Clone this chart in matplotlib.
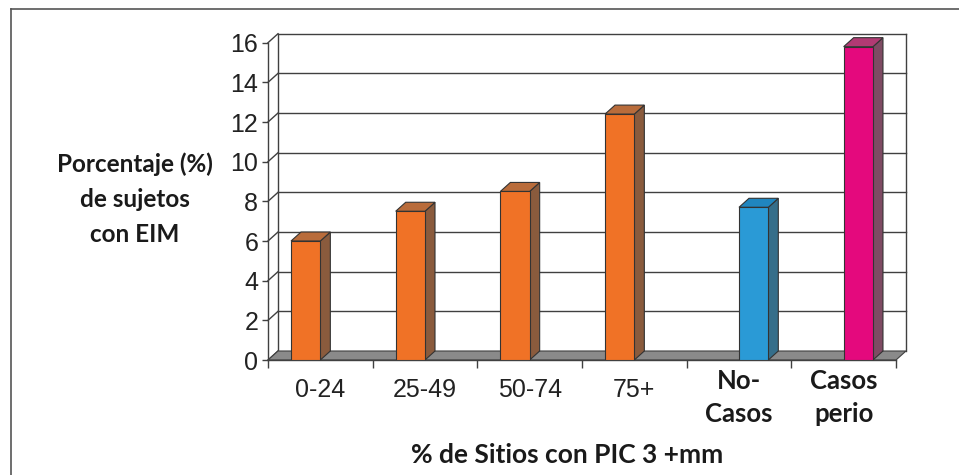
import matplotlib

matplotlib.use("Agg")
import matplotlib.pyplot as plt
from matplotlib.lines import Line2D
from matplotlib.patches import Polygon

# Chart data
categories = ["0-24", "25-49", "50-74", "75+", "No-\nCasos", "Casos\nperio"]
porcentaje = [6.0, 7.5, 8.5, 12.4, 7.7, 15.8]
y_ticks = [0, 2, 4, 6, 8, 10, 12, 14, 16]

# colours per column: front, side, top faces
front_colors = ["#F07226"] * 4 + ["#2A9AD6", "#E4097D"]
side_colors = ["#8A5B3D"] * 4 + ["#356E8A", "#7E4B63"]
top_colors = ["#B96C3B"] * 4 + ["#2086BF", "#B13A73"]
# the first four columns sit left of their slot, the last two right
slot_side = [-1, -1, -1, -1, 1, 1]

W, H = 959, 475
BAR_W = 0.28
DEPTH_X, DEPTH_Y = 10, 9  # pixels of fake 3D depth
LINE = "#404040"

fig = plt.figure(figsize=(W / 100, H / 100), dpi=100)
fig.patch.set_facecolor("white")
ax_l, ax_b, ax_w, ax_h = 268, 115, 628, 317.3
ax = fig.add_axes([ax_l / W, ax_b / H, ax_w / W, ax_h / H])

n = len(categories)
x0, x1 = -0.5, n - 0.5
ymax = y_ticks[-1]
ax.set_xlim(x0, x1)
ax.set_ylim(0, ymax)
dx = DEPTH_X * (x1 - x0) / ax_w
dy = DEPTH_Y * ymax / ax_h

# walls: left-side diagonals and back gridlines
for v in y_ticks:
    ax.plot([x0, x0 + dx], [v, v + dy], color=LINE, lw=1.0, clip_on=False, zorder=1)
    if v > 0:
        ax.plot([x0 + dx, x1 + dx], [v + dy, v + dy], color=LINE, lw=1.0,
                clip_on=False, zorder=1)
for xb in (x0 + dx, x1 + dx):
    ax.plot([xb, xb], [dy, ymax + dy], color=LINE, lw=1.0, clip_on=False, zorder=1)

# floor
floor = Polygon([(x0, 0), (x1, 0), (x1 + dx, dy), (x0 + dx, dy)], closed=True,
                facecolor="#8A8A8A", edgecolor=LINE, lw=0.8, clip_on=False, zorder=2)
ax.add_patch(floor)

# columns
xs = [i + s * BAR_W / 2 for i, s in enumerate(slot_side)]
bars = ax.bar(xs, porcentaje, width=BAR_W, color=front_colors, edgecolor="#333333",
              linewidth=0.8, zorder=5)
for rect, sc, tc in zip(bars, side_colors, top_colors):
    xl = rect.get_x()
    xr = xl + rect.get_width()
    h = rect.get_height()
    side = Polygon([(xr, 0), (xr + dx, dy), (xr + dx, h + dy), (xr, h)], closed=True,
                   facecolor=sc, edgecolor="#333333", lw=0.8, clip_on=False, zorder=4)
    top = Polygon([(xl, h), (xr, h), (xr + dx, h + dy), (xl + dx, h + dy)], closed=True,
                  facecolor=tc, edgecolor="#333333", lw=0.8, clip_on=False, zorder=4)
    ax.add_patch(side)
    ax.add_patch(top)

# axes styling
for s in ("top", "right"):
    ax.spines[s].set_visible(False)
for s in ("left", "bottom"):
    ax.spines[s].set_color(LINE)
    ax.spines[s].set_linewidth(1.0)
    ax.spines[s].set_zorder(3)

ax.set_yticks(y_ticks)
ax.set_yticklabels([str(v) for v in y_ticks], fontfamily="Liberation Sans",
                   fontsize=18, color="#222222")
ax.tick_params(axis="y", direction="out", length=4, width=1.0, color=LINE, pad=3)
ax.set_xticks([x0 + k for k in range(n + 1)])
ax.set_xticklabels([])
ax.tick_params(axis="x", direction="out", length=5.5, width=1.0, color=LINE)

for i, lab in enumerate(categories):
    if "\n" in lab:
        ax.text(i, -0.118, lab, transform=ax.get_xaxis_transform(), ha="center",
                va="center", fontfamily="Lato", fontweight="bold", fontsize=18.5,
                linespacing=1.45, color="#1a1a1a")
    else:
        ax.text(i, -0.094, lab, transform=ax.get_xaxis_transform(), ha="center",
                va="center", fontfamily="Liberation Sans", fontsize=18, color="#222222")

fig.text(135 / W, 1 - 199 / H, "Porcentaje (%)\nde sujetos\ncon EIM", ha="center",
         va="center", multialignment="center", fontfamily="Lato", fontweight="bold",
         fontsize=17.5, linespacing=1.62, color="#1a1a1a")
fig.text(567 / W, 1 - 463 / H, "% de Sitios con PIC 3 +mm", ha="center", va="baseline",
         fontfamily="Lato", fontweight="bold", fontsize=19, color="#1a1a1a")

# outer frame
fig.add_artist(Line2D([10.5 / W, 10.5 / W], [0, 1 - 8.5 / H], transform=fig.transFigure,
                      color="#555555", lw=1.2))
fig.add_artist(Line2D([10.5 / W, 1], [1 - 8.5 / H, 1 - 8.5 / H], transform=fig.transFigure,
                      color="#555555", lw=1.2))

fig.savefig("out.png", dpi=100)
plt.close(fig)
